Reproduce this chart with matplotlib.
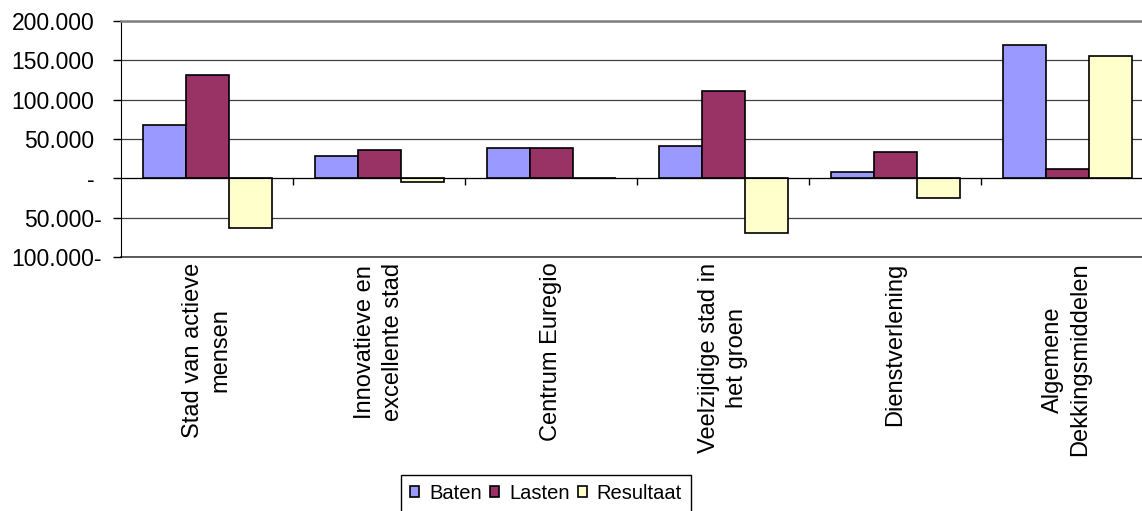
import matplotlib
matplotlib.use("Agg")
import matplotlib.pyplot as plt
import matplotlib.transforms as mtransforms
import numpy as np

plt.rcParams['font.family'] = ['Liberation Sans', 'DejaVu Sans']

# programma's (categorieen)
categorieen = ["Stad van actieve\nmensen", "Innovatieve en\nexcellente stad", "Centrum Euregio",
               "Veelzijdige stad in\nhet groen", "Dienstverlening", "Algemene\nDekkingsmiddelen"]

baten = [68400, 28900, 38000, 40800, 7600, 169800]
lasten = [131600, 35700, 38000, 111200, 33500, 12300]
resultaat = [-62800, -4700, 0, -69700, -25500, 155400]

reeksen = ["Baten", "Lasten", "Resultaat"]
kleuren = ["#9999FF", "#993366", "#FFFFCC"]

y_ticks = [-100000, -50000, 0, 50000, 100000, 150000, 200000]
y_labels = ["100.000-", "50.000-", "-", "50.000", "100.000", "150.000", "200.000"]

fig = plt.figure(figsize=(11.42, 5.11), dpi=100)
W, H = 1142, 511
ax = fig.add_axes([121 / W, 1 - 257 / H, 1032 / W, (257 - 21) / H])

x = np.arange(len(categorieen))
breedte = 0.25
for k, (naam, waarden) in enumerate(zip(reeksen, [baten, lasten, resultaat])):
    ax.bar(x + (k - 1) * breedte, waarden, breedte, label=naam, color=kleuren[k],
           edgecolor="black", linewidth=1.2, zorder=3)

ax.set_xlim(-0.5, len(categorieen) - 0.5)
ax.set_ylim(y_ticks[0], y_ticks[-1])
ax.set_yticks(y_ticks)
ax.set_yticklabels(y_labels)
ax.tick_params(axis="y", direction="out", length=6, width=1, pad=13, labelsize=16.5)
ax.yaxis.grid(True, color="#404040", linewidth=0.9, zorder=0)
# onderste rasterlijn (spine zit op nul)
ax.axhline(y_ticks[0], color="#404040", linewidth=1.2, clip_on=False, zorder=0)

# negatieve labels steken rechts uit (Excel getalnotatie)
verschuif = mtransforms.ScaledTranslation(7 / 100, 0, fig.dpi_scale_trans)
for waarde, lab in zip(y_ticks, ax.get_yticklabels()):
    if waarde < 0:
        lab.set_transform(lab.get_transform() + verschuif)

# x-as op nul met streepjes tussen categorieen
ax.spines["bottom"].set_position(("data", 0))
ax.spines["bottom"].set_zorder(4)
ax.set_xticks(x[:-1] + 0.5)
ax.set_xticklabels([])
ax.tick_params(axis="x", direction="out", length=5, width=1, color="black")
ax.spines["top"].set_color("#808080")
ax.spines["top"].set_linewidth(1.8)
ax.spines["right"].set_visible(False)

for i, naam in enumerate(categorieen):
    ax.annotate(naam, xy=(i, y_ticks[0]), xytext=(0, -4), textcoords="offset points",
                rotation=90, ha="center", va="top", multialignment="center",
                fontsize=17, linespacing=1.3, annotation_clip=False)

fig.legend(loc="upper left", bbox_to_anchor=(401 / W, 1 - 475 / H), ncol=3,
           fontsize=14.5, frameon=True, fancybox=False, edgecolor="black",
           framealpha=1, handlelength=0.45, handleheight=0.45, handletextpad=0.5,
           columnspacing=0.4, borderpad=0.45, borderaxespad=0)

fig.savefig("out.png", dpi=100)
